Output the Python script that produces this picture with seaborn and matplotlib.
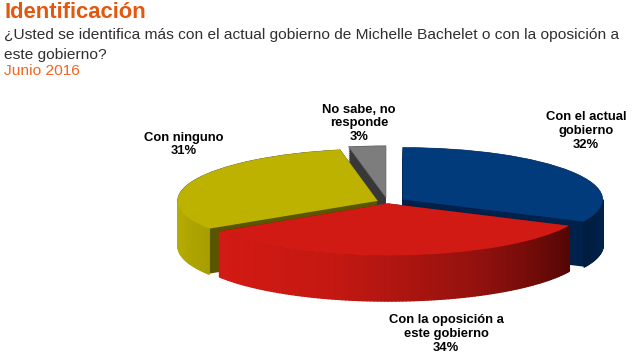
import numpy as np
import matplotlib
matplotlib.use("Agg")
import matplotlib.pyplot as plt
import seaborn as sns

# values from the picture, clockwise from 12 o'clock
labels = ["Con el actual\ngobierno\n32%", "Con la oposición a\neste gobierno\n34%",
          "Con ninguno\n31%", "No sabe, no\nresponde\n3%"]
values = [32, 34, 31, 3]
explode = [0.09, 0.03, 0.054, 0.08]
top_colors = ["#013b7c", "#d21a14", "#bdb200", "#7d7d7d"]
cut_colors = ["#00214a", "#7a0a08", "#5a5600", "#383838"]
rim_colors = [["#001c40", "#00234f"],
              ["#d41a14", "#c51812", "#96120e", "#520605"],
              ["#bab000", "#a89e00"],
              ["#383838", "#383838"]]
label_pos = [(586, 131), (446, 334), (184, 144.5), (359, 123.5)]

W, H = 635, 361
cx, cy = 387.5, 202
rx, ry = 200, 52
depth = 45 / ry

sns.set_theme(style="white")
plt.rcParams['font.family'] = ['Liberation Sans', 'DejaVu Sans']

fig = plt.figure(figsize=(W / 100, H / 100), dpi=100, facecolor="white")
ax = fig.add_axes([0, 0, 1, 1])

ends = 90 - 3.6 * np.cumsum(values)
starts = np.r_[90, ends[:-1]]

# back slices first, the red one sits in front of everything
for i in [3, 2, 0, 1]:
    only = ["none"] * len(values)
    only[i] = cut_colors[i]
    for d in np.linspace(depth, 0, 24):
        ax.pie(values, explode=explode, colors=only, startangle=90, counterclock=False,
               center=(0, -d), radius=1, wedgeprops=dict(linewidth=0.4, edgecolor="none"))

    # outer wall, only the part facing the viewer
    mid = np.deg2rad((starts[i] + ends[i]) / 2)
    ox, oy = explode[i] * np.cos(mid), explode[i] * np.sin(mid)
    th = np.deg2rad(np.linspace(ends[i], starts[i], 120))
    th = th[np.sin(th) < 0]
    if len(th) > 1:
        pal = sns.blend_palette(rim_colors[i], n_colors=len(th))
        xs = ox + np.cos(th)
        order = np.argsort(xs)
        for k in range(len(th) - 1):
            a, b = order[k], order[k + 1]
            ax.fill_between([xs[a], xs[b]],
                            [oy + np.sin(th[a]), oy + np.sin(th[b])],
                            [oy + np.sin(th[a]) - depth, oy + np.sin(th[b]) - depth],
                            color=pal[k], linewidth=1.0)

    only = ["none"] * len(values)
    only[i] = top_colors[i]
    ax.pie(values, explode=explode, colors=only, startangle=90, counterclock=False,
           wedgeprops=dict(linewidth=0.4 if i == 3 else 0, edgecolor="#606060" if i == 3 else "none"))

ax.set_aspect("auto")
ax.set_xlim(-cx / rx, (W - cx) / rx)
ax.set_ylim(-(H - cy) / ry, cy / ry)
ax.axis("off")


def put(x, y, s, **kw):
    fig.text(x / W, 1 - y / H, s, **kw)


put(4, 13, "Identificación", fontsize=15.8, fontweight="bold", color="#e4570f", va="center")
put(4, 35.5, "¿Usted se identifica más con el actual gobierno de Michelle Bachelet o con la oposición a",
    fontsize=11.15, color="#303030", va="center")
put(4, 54.5, "este gobierno?", fontsize=11.15, color="#303030", va="center")
put(4, 71, "Junio 2016", fontsize=11.15, color="#f26522", va="center")

for lab, (x, y) in zip(labels, label_pos):
    put(x, y, lab, fontsize=9.4, fontweight="bold", color="black", ha="center", va="center",
        linespacing=1.22)

fig.savefig("out.png", dpi=100, facecolor="white")
